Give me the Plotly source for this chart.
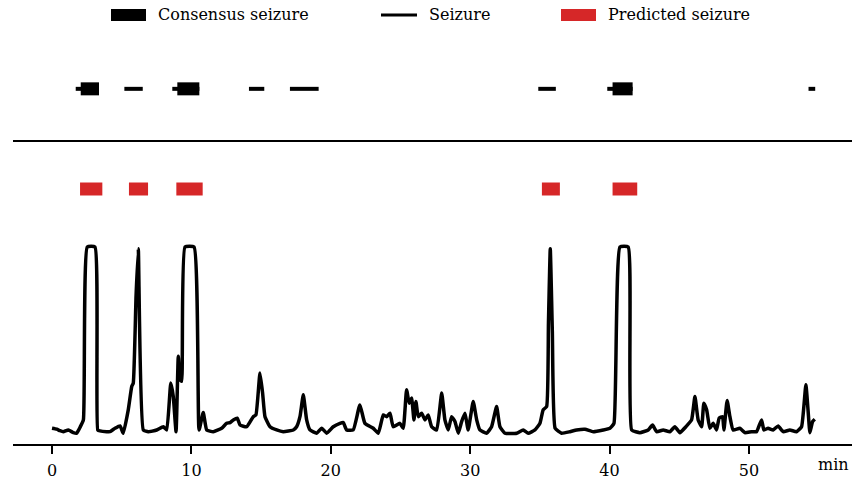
import plotly.graph_objects as go

# ---------------- data ----------------
curve_t = [0.0, 0.34, 0.57, 0.81, 1.17, 1.53, 1.77, 2.01, 2.25, 2.53, 3.08, 3.28, 3.44,
           3.92, 4.16, 4.52, 4.88, 5.11, 5.47, 5.72, 5.83, 6.03, 6.19, 6.55, 6.91, 7.51,
           7.98, 8.23, 8.52, 8.70, 8.90, 9.06, 9.18, 9.30, 9.54, 10.19, 10.55, 10.85, 11.10,
           11.57, 12.17, 12.53, 12.77, 13.01, 13.29, 13.49, 13.97, 14.44, 14.63, 14.92, 15.11,
           15.28, 15.64, 16.12, 16.59, 17.31, 17.55, 17.79, 18.03, 18.27, 18.51, 18.99, 19.35,
           19.71, 20.18, 20.66, 20.90, 21.14, 21.61, 22.09, 22.45, 23.05, 23.41, 23.77, 24.01,
           24.25, 24.48, 24.96, 25.20, 25.44, 25.63, 25.80, 25.97, 26.11, 26.28, 26.52, 26.76,
           26.99, 27.24, 27.60, 27.96, 28.19, 28.43, 28.67, 28.91, 29.15, 29.39, 29.63, 29.86,
           30.22, 30.47, 30.70, 31.18, 31.54, 31.90, 32.14, 32.50, 33.34, 33.81, 34.17, 34.65,
           35.01, 35.24, 35.49, 35.62, 35.75, 35.90, 36.10, 36.56, 37.16, 37.64, 38.24, 38.83,
           39.55, 40.03, 40.32, 40.75, 41.34, 41.59, 42.18, 42.78, 43.09, 43.38, 43.85, 44.33,
           44.69, 45.05, 45.48, 45.89, 46.13, 46.36, 46.61, 46.77, 46.97, 47.20, 47.44, 47.68,
           47.87, 48.11, 48.21, 48.44, 48.64, 48.87, 49.35, 49.71, 50.19, 50.55, 50.91, 51.08,
           51.38, 51.74, 52.10, 52.46, 52.94, 53.42, 53.78, 54.09, 54.28, 54.38, 54.57, 54.73]
curve_v = [0.046, 0.041, 0.033, 0.028, 0.037, 0.023, 0.020, 0.051, 0.090, 1.0, 1.0, 0.037, 0.032,
           0.028, 0.028, 0.046, 0.058, 0.020, 0.143, 0.266, 0.284, 0.742, 0.99, 0.037, 0.028, 0.037,
           0.054, 0.037, 0.284, 0.213, 0.028, 0.425, 0.302, 0.293, 1.0, 1.0, 0.037, 0.129, 0.037,
           0.028, 0.046, 0.072, 0.076, 0.090, 0.099, 0.063, 0.054, 0.107, 0.116, 0.337, 0.231,
           0.107, 0.054, 0.037, 0.028, 0.037, 0.054, 0.107, 0.222, 0.090, 0.037, 0.020, 0.046,
           0.020, 0.054, 0.072, 0.076, 0.037, 0.037, 0.169, 0.072, 0.046, 0.020, 0.116, 0.107,
           0.125, 0.054, 0.072, 0.046, 0.249, 0.178, 0.205, 0.090, 0.187, 0.107, 0.125, 0.090,
           0.116, 0.054, 0.037, 0.231, 0.090, 0.037, 0.107, 0.081, 0.020, 0.081, 0.125, 0.037,
           0.187, 0.090, 0.037, 0.020, 0.054, 0.160, 0.054, 0.020, 0.020, 0.037, 0.020, 0.037,
           0.072, 0.143, 0.160, 0.60, 0.99, 0.55, 0.046, 0.020, 0.028, 0.037, 0.041, 0.028,
           0.037, 0.046, 0.072, 1.0, 1.0, 0.037, 0.023, 0.037, 0.063, 0.028, 0.037, 0.028,
           0.054, 0.023, 0.054, 0.090, 0.213, 0.090, 0.054, 0.178, 0.143, 0.046, 0.072, 0.037,
           0.099, 0.107, 0.037, 0.192, 0.107, 0.037, 0.046, 0.023, 0.028, 0.028, 0.090, 0.037,
           0.046, 0.037, 0.058, 0.028, 0.037, 0.028, 0.054, 0.275, 0.107, 0.023, 0.081, 0.093]

consensus_start = [2.06, 8.99, 40.22]
consensus_end = [3.37, 10.57, 41.66]

seizure_start = [1.70, 5.19, 8.63, 14.13, 17.07, 34.89, 39.84, 54.28]
seizure_end = [3.37, 6.51, 10.57, 15.23, 19.13, 36.15, 41.66, 54.76]

pred_start = [2.01, 5.52, 8.92, 35.15, 40.22]
pred_end = [3.61, 6.89, 10.81, 36.44, 41.99]

x_ticks = [0, 10, 20, 30, 40, 50]
legend_labels = ["Consensus seizure", "Seizure", "Predicted seizure"]

# ---------------- layout constants ----------------
FONT = "DejaVu Serif"
RED = "#d62728"
ROW_CONS = 1.832
ROW_PRED = 1.305
SEP_Y = 1.558
BAR_W = 0.0684

W, H = 852, 487
ML, MR, MT, MB = 13, 0, 40, 43
PW, PH = W - ML - MR, H - MT - MB


def px_x(px):
    return (px - ML) / PW


def px_y(py):
    return (H - MB - py) / PH


fig = go.Figure()

# thin annotator lines
sx, sy = [], []
for a, b in zip(seizure_start, seizure_end):
    sx += [a, b, None]
    sy += [ROW_CONS, ROW_CONS, None]
fig.add_trace(go.Scatter(x=sx, y=sy, mode="lines", line=dict(color="black", width=4),
                         showlegend=False, hoverinfo="skip"))

# consensus bars
fig.add_trace(go.Bar(orientation="h", base=consensus_start,
                     x=[e - s for s, e in zip(consensus_start, consensus_end)],
                     y=[ROW_CONS] * len(consensus_start), width=BAR_W,
                     marker=dict(color="black", line=dict(width=0)), showlegend=False))

# predicted bars
fig.add_trace(go.Bar(orientation="h", base=pred_start,
                     x=[e - s for s, e in zip(pred_start, pred_end)],
                     y=[ROW_PRED] * len(pred_start), width=BAR_W,
                     marker=dict(color=RED, line=dict(width=0)), showlegend=False))

# probability curve
fig.add_trace(go.Scatter(x=curve_t, y=curve_v, mode="lines",
                         line=dict(color="black", width=3.5, shape="spline", smoothing=0.4),
                         showlegend=False))

shapes = [
    dict(type="line", xref="paper", yref="y", x0=0, x1=1, y0=SEP_Y, y1=SEP_Y,
         line=dict(color="black", width=2)),
    # legend symbols
    dict(type="rect", xref="paper", yref="paper", x0=px_x(111), x1=px_x(146),
         y0=px_y(21), y1=px_y(9), fillcolor="black", line=dict(width=0)),
    dict(type="line", xref="paper", yref="paper", x0=px_x(381), x1=px_x(417),
         y0=px_y(15), y1=px_y(15), line=dict(color="black", width=3)),
    dict(type="rect", xref="paper", yref="paper", x0=px_x(561), x1=px_x(596),
         y0=px_y(21), y1=px_y(9), fillcolor=RED, line=dict(width=0)),
]

annotations = []
for lab, px in zip(legend_labels, [157, 428, 607]):
    annotations.append(dict(text=lab, xref="paper", yref="paper", x=px_x(px), y=px_y(15),
                            xanchor="left", yanchor="middle", showarrow=False, borderpad=0,
                            font=dict(family=FONT, size=16, color="black")))
annotations.append(dict(text="min", xref="paper", yref="paper", x=px_x(850), y=px_y(464),
                        xanchor="right", yanchor="middle", showarrow=False, borderpad=0,
                        font=dict(family=FONT, size=16, color="black")))

fig.update_layout(
    width=W, height=H,
    margin=dict(l=ML, r=MR, t=MT, b=MB),
    plot_bgcolor="white", paper_bgcolor="white",
    barmode="overlay",
    showlegend=False,
    shapes=shapes,
    annotations=annotations,
    font=dict(family=FONT, size=16, color="black"),
    xaxis=dict(range=[-2.8, 57.4], tickvals=x_ticks, ticktext=[str(v) for v in x_ticks],
               showgrid=False, zeroline=False, showline=True, linecolor="black", linewidth=2,
               ticks="outside", ticklen=8, tickwidth=1.5, tickcolor="black",
               ticklabelstandoff=3,
               tickfont=dict(family=FONT, size=16, color="black")),
    yaxis=dict(range=[-0.0368, 2.089], visible=False, showgrid=False, zeroline=False),
)

fig.write_html(
    "out.html",
    config={"displayModeBar": False},
    post_script="document.body.style.margin='0';document.body.style.overflow='hidden';",
)
